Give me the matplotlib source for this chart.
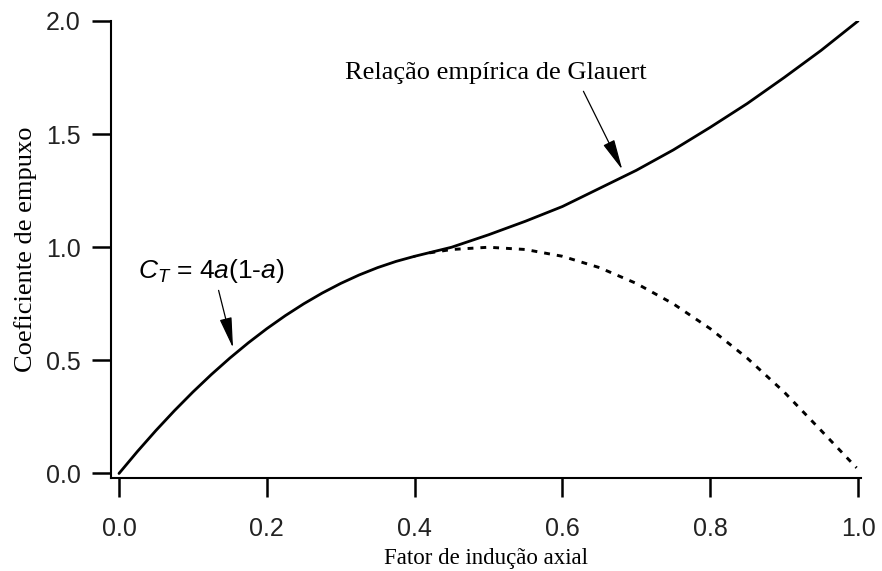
import matplotlib
matplotlib.use("Agg")
import matplotlib.pyplot as plt

# ---- data ----
a_momentum = [0.0, 0.025, 0.05, 0.075, 0.10, 0.125, 0.15, 0.175, 0.20, 0.225, 0.25,
              0.275, 0.30, 0.325, 0.35, 0.375, 0.40]
ct_momentum = [0.0, 0.0975, 0.19, 0.2775, 0.36, 0.4375, 0.51, 0.5775, 0.64, 0.6975, 0.75,
               0.7975, 0.84, 0.8775, 0.91, 0.9375, 0.96]

a_glauert = [0.40, 0.45, 0.50, 0.55, 0.60, 0.65, 0.70, 0.75, 0.80, 0.85, 0.90, 0.95, 1.00]
ct_glauert = [0.96, 1.00, 1.055, 1.115, 1.18, 1.26, 1.34, 1.43, 1.53, 1.635, 1.75, 1.87, 2.00]

a_theory_ext = [0.42, 0.45, 0.50, 0.55, 0.60, 0.65, 0.70, 0.75, 0.80, 0.85, 0.90, 0.95, 0.998]
ct_theory_ext = [0.975, 0.99, 1.00, 0.99, 0.96, 0.91, 0.84, 0.75, 0.64, 0.51, 0.36, 0.19, 0.025]

x_ticks = [0.0, 0.2, 0.4, 0.6, 0.8, 1.0]
x_ticklabels = ["0.0", "0.2", "0.4", "0.6", "0.8", "1.0"]
y_ticks = [0.0, 0.5, 1.0, 1.5, 2.0]
y_ticklabels = ["0.0", "0.5", "1.0", "1.5", "2.0"]

xlabel = "Fator de indução axial"
ylabel = "Coeficiente de empuxo"
label_glauert = "Relação empírica de Glauert"

plt.rcParams["mathtext.fontset"] = "custom"
plt.rcParams["mathtext.rm"] = "Liberation Sans"
plt.rcParams["mathtext.it"] = "Liberation Sans:italic"

fig = plt.figure(figsize=(8.82, 5.71), dpi=100)
ax = fig.add_axes([111 / 882, 1 - 478 / 571, (861 - 111) / 882, (478 - 21) / 571])

ax.plot(a_momentum, ct_momentum, color="black", lw=2.0, solid_capstyle="round",
        solid_joinstyle="round")
ax.plot(a_glauert, ct_glauert, color="black", lw=2.0, solid_capstyle="round",
        solid_joinstyle="round")
ax.plot(a_theory_ext, ct_theory_ext, color="black", lw=2.1, linestyle=(0, (2.0, 2.4)))

ax.set_xlim(-0.0108, 1.004)
ax.set_ylim(-0.02, 2.0)

for s in ["top", "right"]:
    ax.spines[s].set_visible(False)
for s in ["left", "bottom"]:
    ax.spines[s].set_linewidth(1.5)
ax.spines["left"].set_bounds(-0.02, 2.0)

ax.set_xticks(x_ticks)
ax.set_xticklabels(x_ticklabels, fontfamily="Liberation Sans", fontsize=18, color="#222222")
ax.set_yticks(y_ticks)
ax.set_yticklabels(y_ticklabels, fontfamily="Liberation Sans", fontsize=18, color="#222222")
ax.tick_params(axis="x", length=14, width=1.8, pad=14, direction="out")
ax.tick_params(axis="y", length=14, width=1.8, pad=8, direction="out")

ax.set_xlabel(xlabel, fontfamily="Liberation Serif", fontsize=16.5, labelpad=5)
ax.set_ylabel(ylabel, fontfamily="Liberation Serif", fontsize=19, labelpad=6)

ax.annotate(label_glauert, xy=(0.681, 1.343), xytext=(0.306, 1.772),
            fontfamily="Liberation Serif", fontsize=19, ha="left", va="center",
            arrowprops=dict(arrowstyle="-|>,head_length=1.0,head_width=0.2",
                            color="black", lw=0.9, shrinkA=0, shrinkB=0,
                            relpos=(0.79, -0.35)))

ax.annotate(r"$C_T$ = 4$a$(1-$a$)", xy=(0.1543, 0.555), xytext=(0.0257, 0.865),
            fontfamily="Liberation Sans", fontsize=19, ha="left", va="baseline",
            arrowprops=dict(arrowstyle="-|>,head_length=1.0,head_width=0.2",
                            color="black", lw=0.9, shrinkA=0, shrinkB=0,
                            relpos=(0.55, -0.2)))

fig.savefig("out.png", dpi=100)
